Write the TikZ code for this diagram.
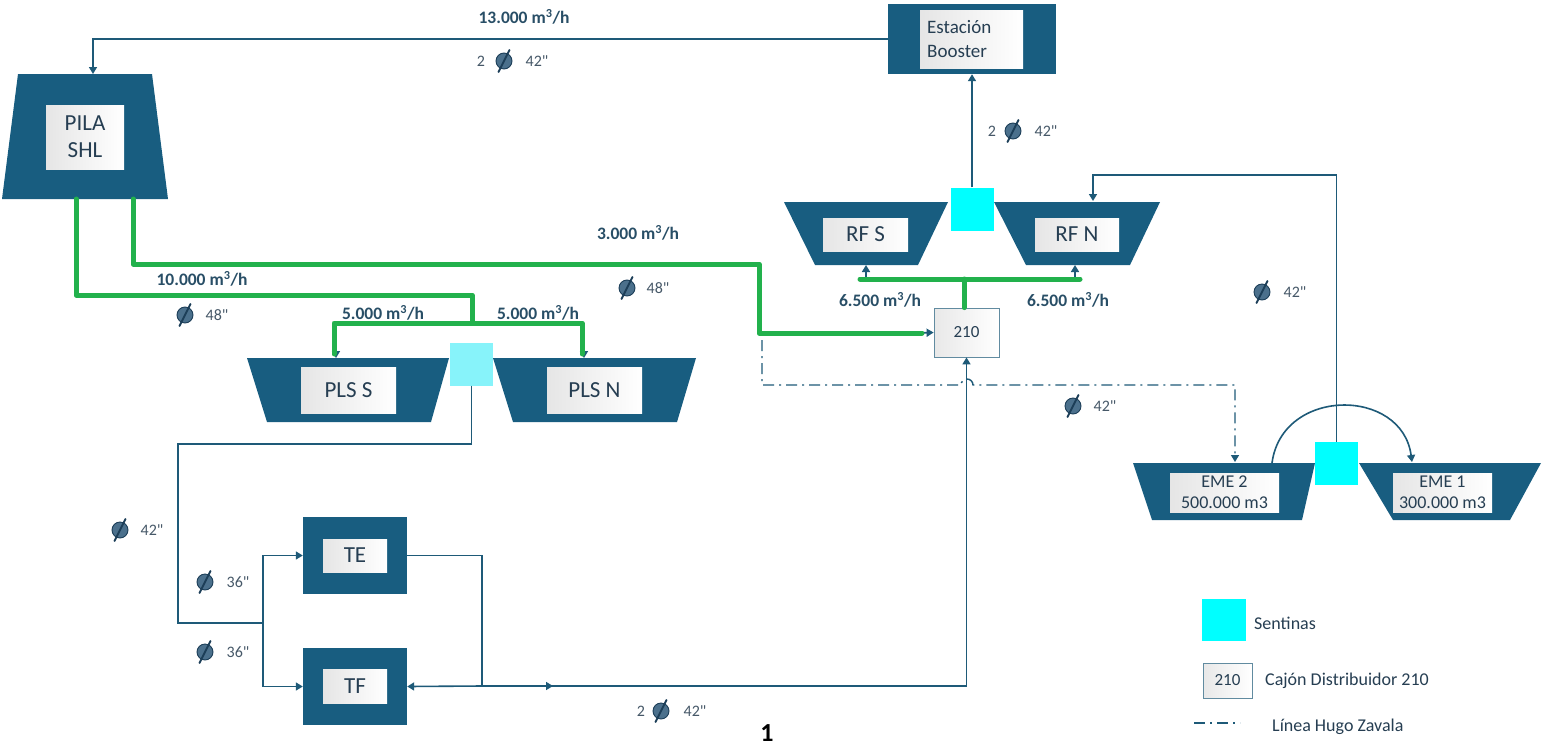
\documentclass[tikz,border=0pt]{standalone}
\usepackage{fontspec}
\setmainfont{Carlito}[Ligatures=TeXOff]
\usetikzlibrary{arrows.meta}
\definecolor{dblue}{RGB}{24,93,128}
\definecolor{lineb}{RGB}{30,90,120}
\definecolor{grn}{RGB}{34,177,76}
\definecolor{cyn}{RGB}{0,255,255}
\definecolor{lcyn}{RGB}{135,243,250}
\definecolor{txtc}{RGB}{38,62,82}
\definecolor{labc}{RGB}{40,78,102}
\definecolor{dtc}{RGB}{70,88,104}
\definecolor{dfill}{RGB}{75,112,140}
\definecolor{dline}{RGB}{28,62,88}
\begin{document}
\begin{tikzpicture}[x=1pt,y=-1pt,
 tank/.style={fill=dblue},
 dbox/.style={fill=dblue, inner sep=0pt},
 inbox/.style={draw=none, left color=black!10, right color=white, inner sep=0pt, text=txtc, align=center},
 bl/.style={draw=lineb, line width=1.6pt},
 gr/.style={draw=grn, line width=5pt, line join=round, line cap=round},
 tip/.style={-{Triangle[width=8pt,length=7pt]}},
 sent/.style={fill=cyn, minimum size=43pt, inner sep=0pt},
 flow/.style={font=\bfseries\fontsize{17.5}{20}\selectfont, text=labc},
 dtxt/.style={font=\fontsize{16}{18}\selectfont, text=dtc},
 bigf/.style={font=\fontsize{23}{27}\selectfont},
 midf/.style={font=\fontsize{18}{21}\selectfont},
 dd/.style={draw=lineb, line width=1.4pt, dash pattern=on 11pt off 5pt on 2pt off 5pt},
 cajon/.style={draw=lineb!70, line width=0.8pt, left color=black!9, right color=white, inner sep=0pt, text=txtc, font=\fontsize{17}{20}\selectfont},
 legt/.style={anchor=west, inner sep=0pt, text=txtc, font=\fontsize{18}{21}\selectfont},
 diam/.pic={\fill[dfill, draw=dline, line width=0.9pt] (0,0) circle (8pt);
            \draw[dline, line width=1.9pt, line cap=round] (-5.5,11)--(5.5,-11);}
]
\useasboundingbox (0,0) rectangle (1543,745);
\fill[white] (0,0) rectangle (1543,745);

% ---------- tanks ----------
\fill[tank] (18,74)--(152,74)--(168,199)--(2,199)--cycle;
\node[inbox, bigf, minimum width=78pt, minimum height=64pt] (pila) at (85,137) {PILA\\SHL};

\node[dbox, minimum width=168pt, minimum height=70pt] (boost) at (972,39) {};
\node[inbox, minimum width=103pt, minimum height=58pt] (boostin) at (971.5,39) {};
\node[anchor=west, inner sep=0pt, align=left, text=txtc, font=\fontsize{19}{24}\selectfont] (boostt) at (927,39) {Estación\\Booster};

\fill[tank] (784,202)--(948,202)--(918,265)--(815,265)--cycle;
\node[inbox, bigf, minimum width=85pt, minimum height=33pt] (rfs) at (865.5,234.5) {RF S};
\fill[tank] (994,202)--(1160,202)--(1130,265)--(1026,265)--cycle;
\node[inbox, bigf, minimum width=84pt, minimum height=33pt] (rfn) at (1077,234.5) {RF N};

\fill[tank] (247,358)--(449,358)--(431,422)--(267,422)--cycle;
\node[inbox, bigf, minimum width=95pt, minimum height=46pt] (plss) at (348.5,390) {PLS S};
\fill[tank] (493,358)--(696,358)--(677,422)--(513,422)--cycle;
\node[inbox, bigf, minimum width=95pt, minimum height=46pt] (plsn) at (594.5,390) {PLS N};

\fill[tank] (1133,463)--(1315,463)--(1302,520)--(1152,520)--cycle;
\node[inbox, midf, minimum width=109pt, minimum height=39pt] (eme2) at (1224.5,492.5) {EME 2\\500.000 m3};
\fill[tank] (1359,463)--(1541,463)--(1510,520)--(1393,520)--cycle;
\node[inbox, midf, minimum width=99pt, minimum height=39pt] (eme1) at (1442.5,492.5) {EME 1\\300.000 m3};

\node[dbox, minimum width=104pt, minimum height=77pt] (te) at (355,555.5) {};
\node[inbox, bigf, minimum width=64pt, minimum height=33pt] (tein) at (355,555.5) {TE};
\node[dbox, minimum width=104pt, minimum height=77pt] (tf) at (355,686.5) {};
\node[inbox, bigf, minimum width=64pt, minimum height=34pt] (tfin) at (355,686) {TF};

\node[cajon, minimum width=65pt, minimum height=49pt] (d210) at (966.5,332.5) {210};

\node[sent] (sRF) at (972,209) {};
\node[sent, fill=lcyn] (sPLS) at (471.5,364) {};
\node[sent] (sEME) at (1336.5,463.5) {};

% ---------- coordinates ----------
\coordinate (pilain) at (93,74);
\coordinate (rfnin) at (1093,201);
\coordinate (eme1in) at (1412,462);
\coordinate (eme2in) at (1235,462);
\coordinate (jL) at (263,623);
\coordinate (jT) at (482,686);
\coordinate (rfsbot) at (866,265);
\coordinate (rfnbot) at (1075,265);
\coordinate (plssin) at (336,358);
\coordinate (plsnin) at (584,358);

% ---------- blue connectors ----------
\draw[bl,tip] (boost.west) -| (pilain);
\draw[bl,tip] (sRF.north) -- (boost.south);
\draw[bl,tip] (sEME.north) |- (1093,175) -- (rfnin);
\draw[bl,tip] (1272,463) .. controls (1282,387) and (1402,387) .. (eme1in);
\draw[bl] (sPLS.south) |- (178,444) |- (jL);
\draw[bl,tip] (jL) |- (te.west);
\draw[bl,tip] (jL) |- (tf.west);
\draw[bl] (te.east) -| (jT);
\draw[bl,tip] (jT) -- (tf.east);
\draw[bl,tip] (jT) -- (553,686);
\draw[bl,tip] (545,686) -| (d210.south);
\draw[bl,tip] (916,333) -- (d210.west);
\draw[bl,tip] (866,277) -- (rfsbot);
\draw[bl,tip] (1075,277) -- (rfnbot);
\draw[bl,tip] (336,346) -- (plssin);
\draw[bl,tip] (584,346) -- (plsnin);

% Hugo Zavala line
\draw[dd,tip] (762,340) -- (762,385) -- (961,385) arc[start angle=180, end angle=0, radius=6pt] -- (1235,385) -- (eme2in);

% ---------- green pipes ----------
\draw[gr] (133,199) |- (759,264) |- (922,333);
\draw[gr] (76,199) |- (472,295) -- (472,323);
\draw[gr] (334,354) |- (582,323) -- (582,354);
\draw[gr] (860,279) -- (1080,279);
\draw[gr] (964,279) -- (964,279 |- d210.north);

% ---------- flow labels ----------
\node[flow] (f13) at (524,17) {13.000 m\textsuperscript{3}/h};
\node[flow] (f10) at (202,279) {10.000 m\textsuperscript{3}/h};
\node[flow] (f3) at (638,233) {3.000 m\textsuperscript{3}/h};
\node[flow] (f5a) at (383,313) {5.000 m\textsuperscript{3}/h};
\node[flow] (f5b) at (538,313) {5.000 m\textsuperscript{3}/h};
\node[flow] (f65a) at (880,300) {6.500 m\textsuperscript{3}/h};
\node[flow] (f65b) at (1068,300) {6.500 m\textsuperscript{3}/h};

% ---------- diameter labels ----------
\node[dtxt] (n1) at (481,61) {2}; \pic at (504,61) {diam}; \node[dtxt] (d1) at (537,61) {42"};
\node[dtxt] (n2) at (992,131) {2}; \pic at (1013,131) {diam}; \node[dtxt] (d2) at (1046,131) {42"};
\pic at (185,315) {diam}; \node[dtxt] (d3) at (217,315) {48"};
\pic at (627,288) {diam}; \node[dtxt] (d4) at (658,288) {48"};
\pic at (1073,406) {diam}; \node[dtxt] (d5) at (1105,406) {42"};
\pic at (1262,292) {diam}; \node[dtxt] (d6) at (1295,292) {42"};
\pic at (120,530) {diam}; \node[dtxt] (d7) at (152,530) {42"};
\pic at (205,582) {diam}; \node[dtxt] (d8) at (238,582) {36"};
\pic at (205,652) {diam}; \node[dtxt] (d9) at (238,652) {36"};
\node[dtxt] (n3) at (641,711) {2}; \pic at (661,711) {diam}; \node[dtxt] (d10) at (695,711) {42"};

% ---------- legend ----------
\node[sent, minimum width=44pt, minimum height=42pt] (lgS) at (1224,620) {};
\node[legt] (lgSt) at (1254,623) {Sentinas};
\node[cajon, minimum width=49pt, minimum height=35pt] (lg210) at (1227.5,680.5) {210};
\node[legt] (lg210t) at (1265,681) {Cajón Distribuidor 210};
\coordinate (lgA) at (1194,723); \coordinate (lgB) at (1240,723);
\draw[dd] (lgA) -- (lgB);
\node[legt] (lgL) at (1272,727) {Línea Hugo Zavala};

\node[font=\bfseries\fontsize{26}{26}\selectfont, text=black, inner sep=0pt] (one) at (767,733) {1};
\end{tikzpicture}
\end{document}
